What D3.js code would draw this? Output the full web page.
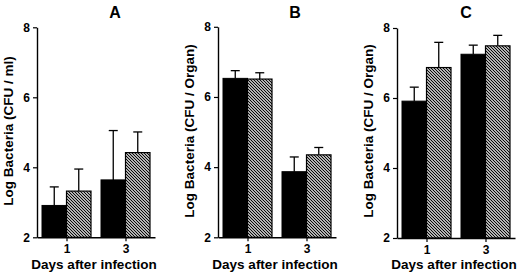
<!DOCTYPE html>
<html>
<head>
<meta charset="utf-8">
<script src="https://cdn.jsdelivr.net/npm/d3@7"></script>
<style>
  html, body { margin: 0; padding: 0; background: #fff; }
  svg text { font-family: "Liberation Sans", Arial, Helvetica, sans-serif; font-weight: bold; fill: #000; }
</style>
</head>
<body>
<svg id="chart" width="522" height="276"></svg>
<script>
// ---- data ----
const days = ["1", "3"];
const panelTitles = ["A", "B", "C"];
const yLabels = ["Log Bacteria (CFU / ml)", "Log Bacteria (CFU / Organ)", "Log Bacteria (CFU / Organ)"];
const xLabel = "Days after infection";
const yTicks = [2, 4, 6, 8];

const blackA = [2.91, 3.64];
const blackAErr = [0.53, 1.41];
const hatchA = [3.32, 4.42];
const hatchAErr = [0.63, 0.59];

const blackB = [6.53, 3.87];
const blackBErr = [0.22, 0.42];
const hatchB = [6.51, 4.35];
const hatchBErr = [0.18, 0.21];

const blackC = [5.91, 7.25];
const blackCErr = [0.40, 0.26];
const hatchC = [6.87, 7.49];
const hatchCErr = [0.72, 0.30];

// ---- layout ----
const panels = [
  { x0: 37,  top: 27.3, bottom: 237.3, titleDx: 78, title: panelTitles[0], ylab: yLabels[0],
    black: blackA, blackErr: blackAErr, hatch: hatchA, hatchErr: hatchAErr },
  { x0: 218, top: 26.8, bottom: 237.3, titleDx: 77, title: panelTitles[1], ylab: yLabels[1],
    black: blackB, blackErr: blackBErr, hatch: hatchB, hatchErr: hatchBErr },
  { x0: 397, top: 28,   bottom: 238,   titleDx: 69, title: panelTitles[2], ylab: yLabels[2],
    black: blackC, blackErr: blackCErr, hatch: hatchC, hatchErr: hatchCErr }
];
const axisLen = 118;
const barW = 24.5;

const svg = d3.select("#chart");

// hatch pattern
const defs = svg.append("defs");
const pat = defs.append("pattern")
  .attr("id", "hatch")
  .attr("patternUnits", "userSpaceOnUse")
  .attr("width", 3).attr("height", 3);
pat.append("rect").attr("width", 3).attr("height", 3).attr("fill", "#fff");
pat.append("path")
  .attr("d", "M-1,-1 L4,4 M-1,2 L1,4 M2,-1 L4,1")
  .attr("stroke", "#000").attr("stroke-width", 1.15);

panels.forEach(p => {
  const g = svg.append("g");
  const x = d3.scalePoint().domain(days).range([p.x0, p.x0 + axisLen]).padding(0.5);
  const y = d3.scaleLinear().domain([2, 8]).range([p.bottom, p.top]);

  const rows = days.map((d, i) => ({
    d, black: p.black[i], blackErr: p.blackErr[i], hatch: p.hatch[i], hatchErr: p.hatchErr[i]
  }));

  // error bars (drawn first, bars cover lower part)
  const errs = [];
  rows.forEach(r => {
    errs.push({ cx: x(r.d) - barW / 2, v: r.black, e: r.blackErr });
    errs.push({ cx: x(r.d) + barW / 2, v: r.hatch, e: r.hatchErr });
  });
  const eg = g.append("g").attr("stroke", "#000").attr("stroke-width", 1.3);
  eg.selectAll("line.v").data(errs).join("line")
    .attr("x1", e => e.cx).attr("x2", e => e.cx)
    .attr("y1", e => y(e.v)).attr("y2", e => y(e.v + e.e));
  eg.selectAll("line.c").data(errs).join("line")
    .attr("x1", e => e.cx - 4.5).attr("x2", e => e.cx + 4.5)
    .attr("y1", e => y(e.v + e.e)).attr("y2", e => y(e.v + e.e));

  // bars
  g.selectAll("rect.black").data(rows).join("rect")
    .attr("x", r => x(r.d) - barW)
    .attr("y", r => y(r.black))
    .attr("width", barW)
    .attr("height", r => y(2) - y(r.black))
    .attr("fill", "#000").attr("stroke", "#000").attr("stroke-width", 1);
  g.selectAll("rect.hatch").data(rows).join("rect")
    .attr("x", r => x(r.d))
    .attr("y", r => y(r.hatch))
    .attr("width", barW)
    .attr("height", r => y(2) - y(r.hatch))
    .attr("fill", "url(#hatch)").attr("stroke", "#000").attr("stroke-width", 1.2);

  // axes
  const ya = g.append("g").attr("transform", `translate(${p.x0},0)`)
    .call(d3.axisLeft(y).tickValues(yTicks).tickFormat(d3.format("d")).tickSize(4).tickSizeOuter(0).tickPadding(3));
  const xa = g.append("g").attr("transform", `translate(0,${p.bottom})`)
    .call(d3.axisBottom(x).tickSize(4).tickSizeOuter(0).tickPadding(3));
  [ya, xa].forEach(a => {
    a.select(".domain").attr("stroke", "#000").attr("stroke-width", 1.4);
    a.selectAll(".tick line").attr("stroke", "#000").attr("stroke-width", 1.2);
    a.selectAll(".tick text").style("font-size", "12px")
      .style("font-family", '"Liberation Sans", Arial, sans-serif').style("font-weight", "bold").attr("fill", "#000");
  });

  // titles
  g.append("text").attr("x", p.x0 + p.titleDx).attr("y", 18)
    .attr("text-anchor", "middle").style("font-size", "16px").text(p.title);
  g.append("text").attr("transform", `translate(${p.x0 - 24},131) rotate(-90)`)
    .attr("text-anchor", "middle").style("font-size", "13.5px").text(p.ylab);
  g.append("text").attr("x", p.x0 + 57).attr("y", 269)
    .attr("text-anchor", "middle").style("font-size", "13.5px").text(xLabel);
});
</script>
</body>
</html>
